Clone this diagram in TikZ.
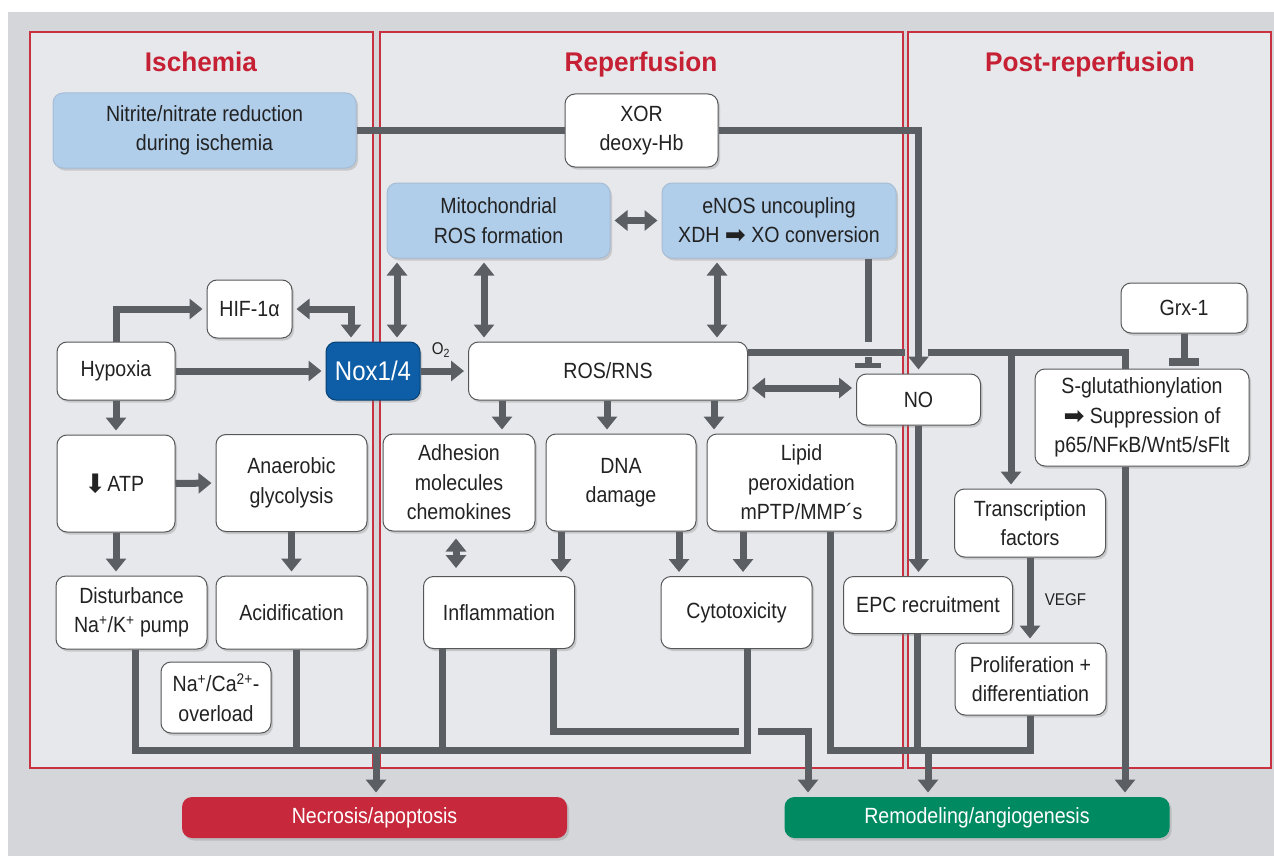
\documentclass[tikz,border=0pt]{standalone}
\usepackage{fontspec}
\setmainfont{Liberation Sans}[FakeStretch=0.89]
\newfontfamily\titlefont{Liberation Sans}[FakeStretch=0.97]
\newfontfamily\symfont{DejaVu Sans}
\usetikzlibrary{arrows.meta,shadows}
\definecolor{outerbg}{HTML}{D4D6D9}
\definecolor{panelbg}{HTML}{E6E8EB}
\definecolor{panelred}{HTML}{C8313F}
\definecolor{titlered}{HTML}{C62034}
\definecolor{boxblue}{HTML}{B0CDEA}
\definecolor{noxblue}{HTML}{0D5EA6}
\definecolor{linegray}{HTML}{5B5F63}
\definecolor{boxborder}{HTML}{555759}
\definecolor{necred}{HTML}{C8283C}
\definecolor{remgreen}{HTML}{008A62}
\definecolor{txt}{HTML}{222222}
\tikzset{
  panel/.style={fill=panelbg, draw=panelred, line width=1.5pt},
  ttl/.style={text=titlered, font=\titlefont\bfseries\fontsize{27}{30}\selectfont, anchor=base},
  bx/.style={draw=boxborder, line width=1pt, fill=white, rounded corners=10pt, align=center,
    inner sep=1pt, text=txt, font=\fontsize{22}{29.5}\selectfont,
    drop shadow={shadow xshift=2pt, shadow yshift=-2.5pt, opacity=0.3}},
  bbx/.style={bx, fill=boxblue, draw=boxblue!80!gray},
  ln/.style={draw=linegray, line width=7pt},
  ar/.style={ln, -{Triangle[width=20pt,length=13pt]}, shorten >=4pt},
  dar/.style={ln, {Triangle[width=20pt,length=13pt]}-{Triangle[width=20pt,length=13pt]}, shorten >=4pt, shorten <=4pt},
  inh/.style={ln, -{Rectangle[width=30pt,length=8pt]}},
}
\newcommand{\rarr}{{\symfont\fontsize{25}{25}\selectfont\raisebox{-1pt}{➡}}}
\begin{document}
\begin{tikzpicture}[x=1pt,y=-1pt]
\useasboundingbox (0,0) rectangle (1274,856);
\fill[white] (0,0) rectangle (1274,856);
\fill[outerbg] (8,12) rectangle (1274,856);
\draw[panel] (30,32) rectangle (373,768);
\draw[panel] (380,32) rectangle (903,768);
\draw[panel] (908,32) rectangle (1271,768);
\node[ttl] (t1) at (201,72) {Ischemia};
\node[ttl] (t2) at (641,72) {Reperfusion};
\node[ttl] (t3) at (1090,72) {Post-reperfusion};

% helper coordinates
\foreach \n in {135,296,351,376,397,442,456,484,502,553,561,607,679,714,717,739,743,747,758,808,830,868,905,917,928,1011,1125}
  {\coordinate (c\n) at (\n,0);}
\coordinate (r352) at (0,352);
\coordinate (r388) at (0,388);
\coordinate (r731) at (0,731);
\coordinate (rbus) at (0,750);
\coordinate (r342) at (0,342);
\coordinate (r357) at (0,357);
\coordinate (r368) at (0,368);

% nodes
\node[bbx, minimum width=303pt, minimum height=75pt] (nitrite) at (204.5,130.5) {Nitrite/nitrate reduction\\during ischemia};
\node[bx, minimum width=153pt, minimum height=73pt] (xor) at (641.5,130.5) {XOR\\deoxy-Hb};
\node[bbx, minimum width=223pt, minimum height=75pt] (mito) at (498.5,220.5) {Mitochondrial\\ROS formation};
\node[bbx, minimum width=234pt, minimum height=75pt] (enos) at (779,220.5) {eNOS uncoupling\\XDH \rarr{} XO conversion};
\node[bx, minimum width=85pt, minimum height=58pt] (hif) at (249.5,309) {HIF-1α};
\node[bx, minimum width=118pt, minimum height=58pt] (hyp) at (116,371) {Hypoxia};
\node[bx, minimum width=94pt, minimum height=58pt, fill=noxblue, draw=noxblue!70!black, text=white, font=\fontsize{27}{30}\selectfont] (nox) at (373,371) {Nox1/4};
\node[bx, minimum width=279pt, minimum height=58pt] (ros) at (608,371) {ROS/RNS};
\node[bx, minimum width=124pt, minimum height=51pt] (no) at (918.5,399.5) {NO};
\node[bx, minimum width=126pt, minimum height=50pt] (grx) at (1184,308) {Grx-1};
\node[bx, minimum width=214pt, minimum height=97pt] (sglu) at (1142,417.5) {S-glutathionylation\\\rarr{} Suppression of\\p65/NFκB/Wnt5/sFlt};
\node[bx, minimum width=118pt, minimum height=97pt] (atp) at (116,483.5) {{\symfont\fontsize{26}{26}\selectfont\raisebox{1pt}{\rotatebox[origin=c]{-90}{➡}}}\hspace{5pt}ATP};
\node[bx, minimum width=151pt, minimum height=97pt] (anaer) at (291.5,483) {Anaerobic\\glycolysis};
\node[bx, minimum width=152pt, minimum height=97pt] (adh) at (459,482.5) {Adhesion\\molecules\\chemokines};
\node[bx, minimum width=150pt, minimum height=97pt] (dna) at (621,482.5) {DNA\\damage};
\node[bx, minimum width=189pt, minimum height=97pt] (lipid) at (801.5,482.5) {Lipid\\peroxidation\\mPTP/MMP´s};
\node[bx, minimum width=151pt, minimum height=68pt] (tf) at (1030,523) {Transcription\\factors};
\node[bx, minimum width=151pt, minimum height=73pt] (dist) at (131.5,612.5) {Disturbance\\Na\textsuperscript{+}/K\textsuperscript{+} pump};
\node[bx, minimum width=151pt, minimum height=73pt] (acid) at (291.5,612.5) {Acidification};
\node[bx, minimum width=110pt, minimum height=71pt] (naca) at (216,697.5) {Na\textsuperscript{+}/Ca\textsuperscript{2+}-\\overload};
\node[bx, minimum width=151pt, minimum height=72pt] (infl) at (499,612.5) {Inflammation};
\node[bx, minimum width=151pt, minimum height=72pt] (cyto) at (736.5,612.5) {Cytotoxicity};
\node[bx, minimum width=169pt, minimum height=57pt] (epc) at (928,605) {EPC recruitment};
\node[bx, minimum width=151pt, minimum height=72pt] (prolif) at (1030.5,679) {Proliferation +\\differentiation};
\node[bx, minimum width=385pt, minimum height=41pt, fill=necred, draw=none, text=white] (necro) at (374.5,817.5) {Necrosis/apoptosis};
\node[bx, minimum width=385pt, minimum height=41pt, fill=remgreen, draw=none, text=white] (remod) at (977,817.5) {Remodeling/angiogenesis};

% connectors: top
\draw[ln] (nitrite.east) -- (xor.west);
\draw[ar] (xor.east) -| (no.north);
\draw[dar] (mito.east) -- (enos.west);
\draw[dar] (c397 |- mito.south) -- (c397 |- nox.north);
\draw[dar] (c484 |- mito.south) -- (c484 |- ros.north);
\draw[dar] (c717 |- enos.south) -- (c717 |- ros.north);
\draw[ln] (c868 |- enos.south) -- (c868 |- r342);
\draw[ln, -{Rectangle[width=26pt,length=5pt]}] (c868 |- r357) -- (c868 |- r368);
\draw[ln] (ros.east |- r352) -- (c905 |- r352);
\draw[ln] (c928 |- r352) -- (c1125 |- r352) -- (c1125 |- sglu.north);
\draw[ar] (c1011 |- r352) -- (c1011 |- tf.north);
\draw[dar] (ros.east |- r388) -- (no.west |- r388);
\draw[ar] (no.south) -- (no.south |- epc.north);
\draw[inh, shorten >=3pt] (grx.south) -- (grx.south |- sglu.north);
\draw[ar] (c1125 |- sglu.south) -- (c1125 |- remod.north);
\draw[ar] (tf.south) -- (tf.south |- prolif.north)
  node[midway, right=8pt, text=txt, font=\fontsize{17}{17}\selectfont] (vegf) {VEGF};

% ischemia
\draw[ar] (hyp.north) |- (hif.west);
\draw[dar] (hif.east) -| (c351 |- nox.north);
\draw[ar] (hyp.east) -- (nox.west);
\draw[ar] (nox.east) -- (ros.west);
\node[text=txt, font=\fontsize{17}{17}\selectfont] (o2) at (441,350) {O\textsubscript{2}};
\draw[ar] (hyp.south) -- (atp.north);
\draw[ar] (atp.east) -- (anaer.west);
\draw[ar] (atp.south) -- (atp.south |- dist.north);
\draw[ar] (anaer.south) -- (anaer.south |- acid.north);

% reperfusion middle
\draw[ar] (c502 |- ros.south) -- (c502 |- adh.north);
\draw[ar] (c607 |- ros.south) -- (c607 |- dna.north);
\draw[ar] (c714 |- ros.south) -- (c714 |- lipid.north);
\draw[dar, shorten <=7pt, shorten >=8pt] (c456 |- adh.south) -- (c456 |- infl.north);
\draw[ar] (c561 |- dna.south) -- (c561 |- infl.north);
\draw[ar] (c679 |- dna.south) -- (c679 |- cyto.north);
\draw[ar] (c743 |- lipid.south) -- (c743 |- cyto.north);

% necrosis bus
\draw[ln] (c135 |- dist.south) -- (c135 |- rbus) -- (c747 |- rbus) -- (c747 |- cyto.south);
\draw[ln] (c296 |- acid.south) -- (c296 |- rbus);
\draw[ln] (c442 |- infl.south) -- (c442 |- rbus);
\draw[ar] (c376 |- rbus) -- (c376 |- necro.north);

% remodeling
\draw[ln] (c553 |- infl.south) -- (c553 |- r731) -- (c739 |- r731);
\draw[ar] (c758 |- r731) -- (c808 |- r731) -- (c808 |- remod.north);
\draw[ln] (c830 |- lipid.south) -- (c830 |- rbus) -- (prolif.south |- rbus) -- (prolif.south);
\draw[ln] (c917 |- epc.south) -- (c917 |- rbus);
\draw[ar] (c928 |- rbus) -- (c928 |- remod.north);
\end{tikzpicture}
\end{document}
